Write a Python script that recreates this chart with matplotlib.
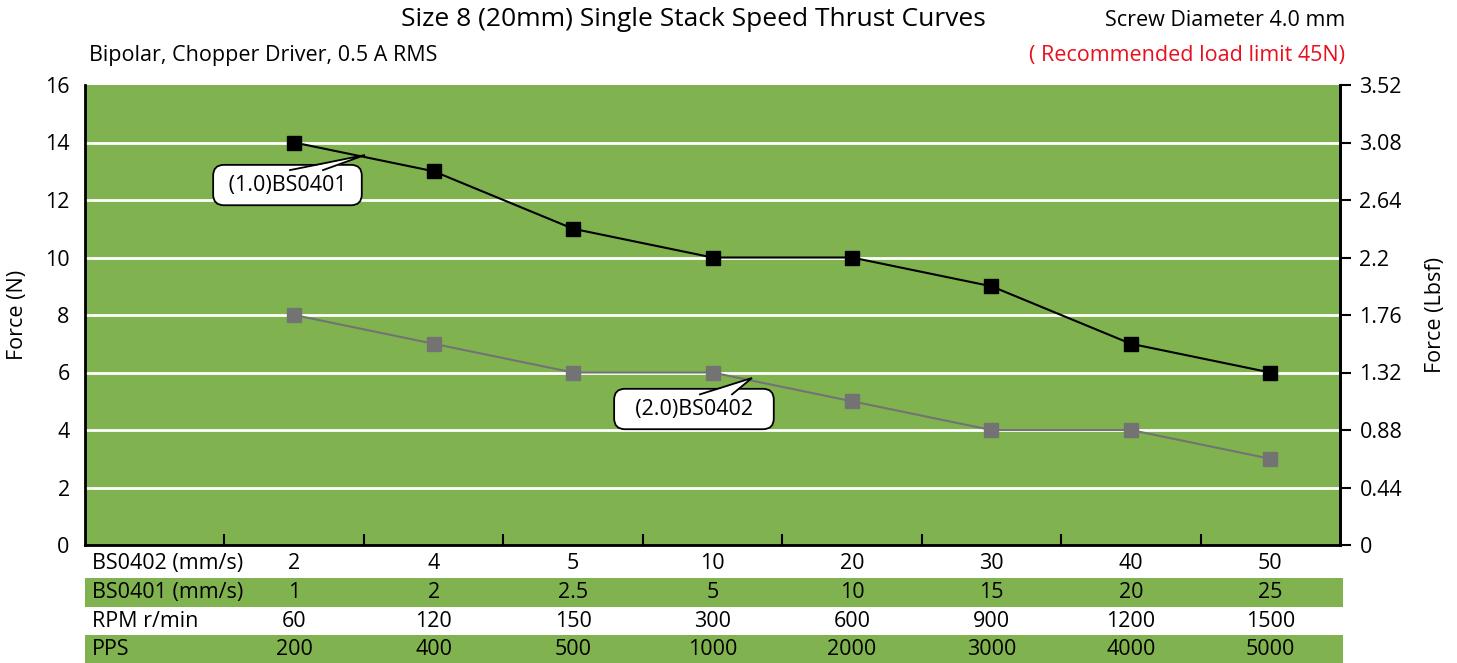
import matplotlib.pyplot as plt
import numpy as np

plt.rcParams['font.family'] = ['Open Sans', 'DejaVu Sans']

# data
bs0401_force = [14, 13, 11, 10, 10, 9, 7, 6]
bs0402_force = [8, 7, 6, 6, 5, 4, 4, 3]
row_labels = ["BS0402 (mm/s)", "BS0401 (mm/s)", "RPM r/min", "PPS"]
row_values = [
    ["2", "4", "5", "10", "20", "30", "40", "50"],
    ["1", "2", "2.5", "5", "10", "15", "20", "25"],
    ["60", "120", "150", "300", "600", "900", "1200", "1500"],
    ["200", "400", "500", "1000", "2000", "3000", "4000", "5000"],
]
left_ticks = [0, 2, 4, 6, 8, 10, 12, 14, 16]
right_ticks = ["0", "0.44", "0.88", "1.32", "1.76", "2.2", "2.64", "3.08", "3.52"]

green = "#80b350"
fs = 15.5
W, H = 1457, 663
fig = plt.figure(figsize=(W / 100, H / 100), dpi=100)

ax = fig.add_axes([85 / W, 1 - 545 / H, (1340 - 85) / W, 460 / H])
ax.set_facecolor(green)
x = np.arange(1, 9)
ax.set_xlim(-0.5, 8.5)
ax.set_ylim(0, 16)

for g in left_ticks[1:-1]:
    ax.axhline(g, color="white", lw=2, zorder=1)

ax.plot(x, bs0402_force, color="#737373", lw=1.5, marker="s", ms=9.5, zorder=3)
ax.plot(x, bs0401_force, color="black", lw=1.5, marker="s", ms=10, zorder=4)

ax.spines["top"].set_visible(False)
for s in ["left", "bottom", "right"]:
    ax.spines[s].set_linewidth(2)

ax.set_yticks(left_ticks)
ax.tick_params(axis="y", length=0, pad=11, labelsize=fs)
ax.set_xticks(np.arange(0.5, 8, 1))
ax.set_xticklabels([])
ax.tick_params(axis="x", direction="in", length=8, width=1.5)
ax.set_ylabel("Force (N)", fontsize=fs, labelpad=12)

ax2 = ax.twinx()
ax2.set_ylim(0, 16)
ax2.set_yticks(left_ticks)
ax2.set_yticklabels(right_ticks)
ax2.tick_params(axis="y", length=8, width=1.5, labelsize=fs, pad=6)
ax2.spines["top"].set_visible(False)
ax2.spines["right"].set_linewidth(2)
ax2.set_ylabel("Force (Lbsf)", fontsize=fs, labelpad=16)

# callouts: rounded box + pointer wedge
def callout(label, center, base_l, base_r, base_y, tip):
    ax2.text(center[0], center[1], label, fontsize=fs, ha="center", va="center", zorder=6,
             bbox=dict(boxstyle="round,pad=0.45,rounding_size=0.5", fc="white", ec="black", lw=1.3))
    ax2.fill([base_l, tip[0], base_r], [base_y, tip[1], base_y], color="white", lw=0, zorder=7)
    ax2.plot([base_l, tip[0], base_r], [base_y + 0.04, tip[1], base_y + 0.04], color="black", lw=1.3,
             zorder=7, solid_joinstyle="miter")

callout(" (1.0)BS0401 ", (0.952, 12.52), 0.970, 1.207, 13.0, (1.508, 13.565))
callout("  (2.0)BS0402  ", (3.867, 4.73), 3.910, 4.140, 5.2, (4.283, 5.809))

# table under the chart
tab = fig.add_axes([85 / W, 0, (1343 - 85) / W, 115 / H])
tab.set_xlim(-0.5, 8.5 + 3 / 139.4)
tab.set_ylim(4, 0)
tab.axis("off")
row_edges = [0, 1.05, 2.05, 3.03, 4]
for i, (lab, vals) in enumerate(zip(row_labels, row_values)):
    if i % 2 == 1:
        tab.axhspan(row_edges[i], row_edges[i + 1], color=green, lw=0)
    yc = (row_edges[i] + row_edges[i + 1]) / 2
    tab.text(-0.45, yc, lab, fontsize=fs, ha="left", va="center")
    for xi, v in zip(x, vals):
        tab.text(xi, yc, v, fontsize=fs, ha="center", va="center")

fig.text(693 / W, 1 - 20 / H, "Size 8 (20mm) Single Stack Speed Thrust Curves",
         fontsize=19, ha="center", va="center")
fig.text(1345 / W, 1 - 20 / H, "Screw Diameter 4.0 mm", fontsize=fs, ha="right", va="center")
fig.text(89 / W, 1 - 55 / H, "Bipolar, Chopper Driver, 0.5 A RMS", fontsize=fs, ha="left", va="center")
fig.text(1345 / W, 1 - 55 / H, "( Recommended load limit 45N)", fontsize=fs, ha="right",
         va="center", color="#e8101e")

fig.savefig("out.png", dpi=100)
